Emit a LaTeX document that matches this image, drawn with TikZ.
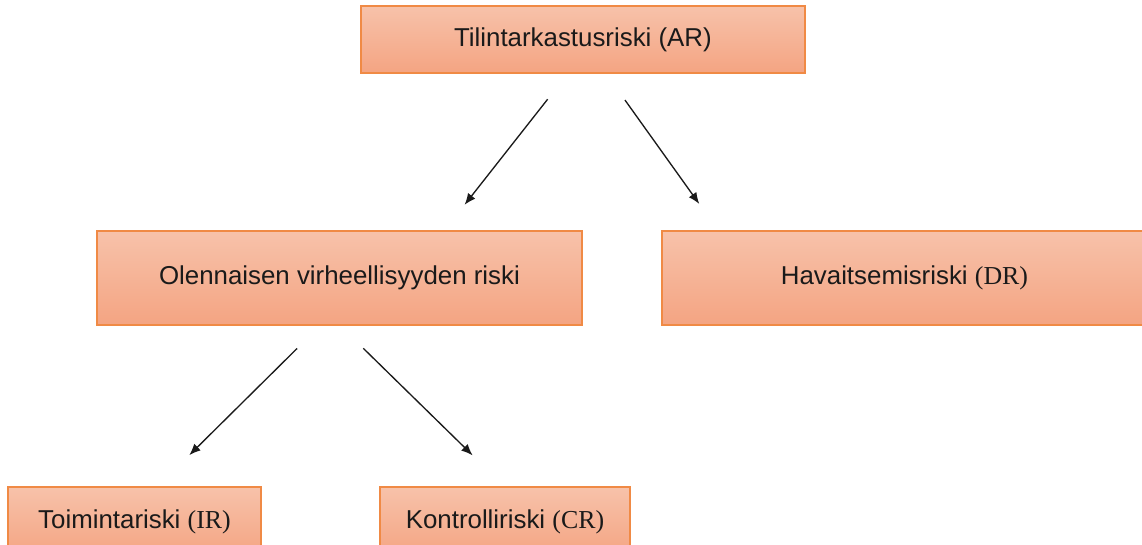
\documentclass[tikz,border=0pt]{standalone}
\usepackage{fontspec}
\setmainfont{Liberation Sans}
\newfontfamily\parenfont{Liberation Serif}
\usetikzlibrary{arrows.meta,positioning}
\definecolor{rim}{HTML}{F08A45}
\definecolor{peachtop}{HTML}{F7C2AA}
\definecolor{peachbot}{HTML}{F4A482}
\definecolor{ink}{HTML}{1A1A1A}
\tikzset{
  base/.style={font=\fontsize{19.4}{23}\selectfont,text=ink,align=center,draw=rim,line width=1.1pt,top color=peachtop,bottom color=peachbot,inner sep=4pt,outer sep=0pt},
  risk/.style={base,minimum width=363.75pt,minimum height=70.5pt},
  part/.style={base,minimum width=189.75pt,minimum height=52.5pt},
  flow/.style={-{Latex[length=8.5pt,width=7pt]},line width=1pt,draw=ink,shorten <=25pt,shorten >=25pt},
  flowlow/.style={flow,shorten >=34pt}
}

\begin{document}
\begin{tikzpicture}
\useasboundingbox (0,0) rectangle (856.5pt,-408.75pt);
\clip (0,0) rectangle (856.5pt,-408.75pt);

\node[risk] (risk) at (254.6pt,-208.5pt) {Olennaisen virheellisyyden riski};
\node[risk,right=60pt of risk] (detect) {Havaitsemisriski {\parenfont(DR)}};
\node[base,minimum width=333pt,minimum height=50.25pt,above=118.5pt of risk,xshift=182.6pt] (audit) {Tilintarkastusriski (AR)};
\node[part,below=121.5pt of risk,xshift=-153.75pt] (inherent) {Toimintariski {\parenfont(IR)}};
\node[part,minimum width=187.5pt,right=89.25pt of inherent] (control) {Kontrolliriski {\parenfont(CR)}};

\draw[flow] ([xshift=-11pt]audit.south) -- ([xshift=78.4pt]risk.north);
\draw[flow] ([xshift=17pt]audit.south) -- ([xshift=42.5pt]detect.north west);
\draw[flowlow] ([xshift=-14pt]risk.south) -- ([xshift=17pt]inherent.north);
\draw[flowlow] (risk.south) -- (control.north);
\end{tikzpicture}
\end{document}
